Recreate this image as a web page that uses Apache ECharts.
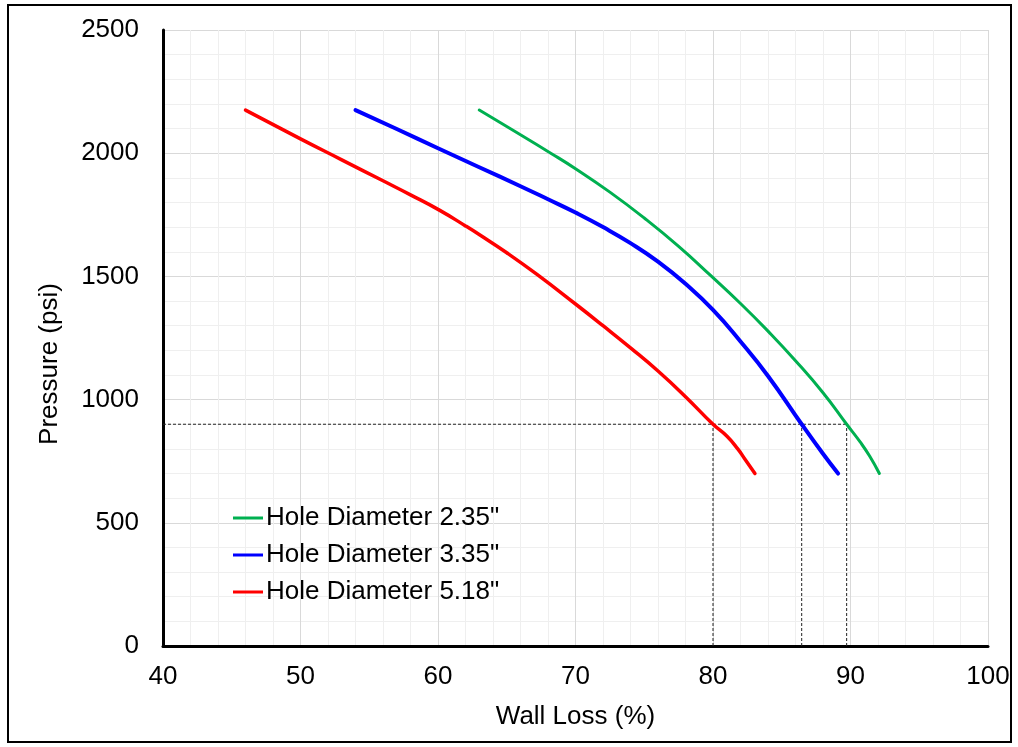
<!DOCTYPE html>
<html>
<head>
<meta charset="utf-8">
<script src="https://cdn.jsdelivr.net/npm/echarts@6/dist/echarts.min.js"></script>
<style>
  html, body { margin: 0; padding: 0; background: #fff; }
  #chart { width: 1018px; height: 747px; }
</style>
</head>
<body>
<div id="chart"></div>
<script>
// Wall loss (%) and burst pressure (psi) per hole diameter
const seriesNames = ['Hole Diameter 2.35"', 'Hole Diameter 3.35"', 'Hole Diameter 5.18"'];

const lossD235 = [63, 65, 68.2, 70, 72.5, 75, 77.5, 79.8, 82, 84, 86, 88, 89.72, 90.7, 91.4, 92.1];
const presD235 = [2175, 2108, 2000, 1937, 1842, 1737, 1622, 1505, 1390, 1278, 1158, 1028, 900, 828, 770, 700];

const lossD335 = [54, 57, 60, 63, 66, 68, 70, 72, 74, 76, 78, 80, 82, 84, 86.45, 88, 89.1];
const presD335 = [2175, 2098, 2020, 1943, 1866, 1813, 1759, 1700, 1635, 1560, 1470, 1364, 1236, 1096, 900, 780, 700];

const lossD518 = [46, 50, 53, 56, 58, 60.1, 62, 63.05, 65, 67.2, 70, 72, 74, 76, 78, 80, 81, 81.8, 82.3, 83.05];
const presD518 = [2175, 2058, 1973, 1888, 1831, 1769, 1705, 1668, 1596, 1508, 1388, 1300, 1210, 1116, 1012, 900, 852, 800, 760, 700];

// Operating pressure and the wall loss each curve allows at that pressure
const refPressure = 900;
const refLoss = [80, 86.45, 89.72];

const xTicks = [40, 50, 60, 70, 80, 90, 100];
const yTicks = [0, 500, 1000, 1500, 2000, 2500];

const colors = ['#00b050', '#0000ff', '#ff0000'];
const widths = [3, 4, 3.5];

const pairs = (xs, ys) => xs.map((x, i) => [x, ys[i]]);
const curves = [pairs(lossD235, presD235), pairs(lossD335, presD335), pairs(lossD518, presD518)];

const FONT = 'Liberation Sans, Arial, sans-serif';
const FS = 26;

const refStyle = { color: '#222', width: 1, type: [3, 2] };
const refSeries = [
  {
    type: 'line', silent: true, symbol: 'none', z: 1,
    lineStyle: refStyle,
    data: [[xTicks[0], refPressure], [refLoss[refLoss.length - 1], refPressure]]
  }
].concat(refLoss.map(x => ({
  type: 'line', silent: true, symbol: 'none', z: 1,
  lineStyle: refStyle,
  data: [[x, 0], [x, refPressure]]
})));

const chart = echarts.init(document.getElementById('chart'), null, { renderer: 'canvas' });
chart.setOption({
  animation: false,
  backgroundColor: '#fff',
  grid: { left: 163, right: 30, top: 30, bottom: 101, containLabel: false },
  graphic: [{
    type: 'rect',
    shape: { x: 8, y: 5, width: 1003, height: 737 },
    style: { fill: 'none', stroke: '#000', lineWidth: 2 },
    z: -1
  }],
  legend: {
    data: seriesNames,
    orient: 'vertical',
    left: 233, top: 505,
    padding: 0,
    icon: 'rect',
    itemWidth: 30, itemHeight: 3,
    itemGap: 11,
    textStyle: { fontFamily: FONT, fontSize: FS, color: '#000', lineHeight: 26, padding: [0, 0, 0, -2] }
  },
  xAxis: {
    type: 'value', min: xTicks[0], max: xTicks[xTicks.length - 1], interval: 10,
    name: 'Wall Loss (%)', nameLocation: 'middle', nameGap: 58,
    nameTextStyle: { fontFamily: FONT, fontSize: FS, color: '#000' },
    axisLine: { show: true, onZero: false, lineStyle: { color: '#000', width: 3 } },
    axisTick: { show: false },
    axisLabel: { fontFamily: FONT, fontSize: FS, color: '#000', margin: 18 },
    splitLine: { show: true, lineStyle: { color: '#d9d9d9', width: 1 } },
    minorTick: { show: false, splitNumber: 5 },
    minorSplitLine: { show: true, lineStyle: { color: '#efefef', width: 1 } }
  },
  yAxis: {
    type: 'value', min: yTicks[0], max: yTicks[yTicks.length - 1], interval: 500,
    name: 'Pressure (psi)', nameLocation: 'middle', nameGap: 100,
    nameTextStyle: { fontFamily: FONT, fontSize: FS, color: '#000', padding: [0, 52, 0, 0] },
    axisLine: { show: true, onZero: false, lineStyle: { color: '#000', width: 3 } },
    axisTick: { show: false },
    axisLabel: { fontFamily: FONT, fontSize: FS, color: '#000', margin: 24, formatter: v => String(v) },
    splitLine: { show: true, lineStyle: { color: '#d9d9d9', width: 1 } },
    minorTick: { show: false, splitNumber: 5 },
    minorSplitLine: { show: true, lineStyle: { color: '#efefef', width: 1 } }
  },
  series: curves.map((data, i) => ({
    name: seriesNames[i],
    type: 'line',
    data: data,
    smooth: 0.5,
    symbol: 'none',
    z: 3,
    itemStyle: { color: colors[i] },
    lineStyle: { color: colors[i], width: widths[i], cap: 'round', join: 'round' }
  })).concat(refSeries)
});
</script>
</body>
</html>
